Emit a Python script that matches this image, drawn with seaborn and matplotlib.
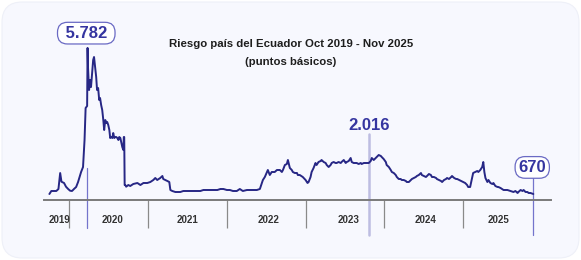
import matplotlib
matplotlib.use("Agg")
import matplotlib.pyplot as plt
from matplotlib.patches import FancyBboxPatch
import matplotlib.transforms as mtransforms
import seaborn as sns
import pandas as pd

dates = [
"2019-10-01","2019-10-10","2019-10-24","2019-11-02","2019-11-12","2019-11-20","2019-11-26","2019-12-08","2019-12-17","2019-12-27",
"2020-01-05","2020-01-14","2020-01-23","2020-02-02","2020-02-11","2020-02-25","2020-03-05","2020-03-12","2020-03-17","2020-03-24",
"2020-03-26","2020-03-28","2020-04-02","2020-04-07","2020-04-11","2020-04-21","2020-04-25","2020-04-30","2020-05-05","2020-05-09",
"2020-05-14","2020-05-19","2020-05-23","2020-05-28","2020-06-02","2020-06-07","2020-06-11","2020-06-16","2020-06-21","2020-06-25",
"2020-06-30","2020-07-05","2020-07-09","2020-07-14","2020-07-19","2020-07-23","2020-07-28","2020-08-02","2020-08-06","2020-08-11",
"2020-08-16","2020-08-20","2020-08-25","2020-08-30","2020-09-03","2020-09-08","2020-09-10","2020-09-12","2020-09-14","2020-09-17",
"2020-09-21","2020-10-01","2020-10-10","2020-10-24","2020-11-12","2020-11-26","2020-12-10","2020-12-28","2021-01-11","2021-01-25",
"2021-02-03","2021-02-12","2021-02-26","2021-03-08","2021-03-12","2021-03-22","2021-03-31","2021-04-09","2021-04-14","2021-04-23",
"2021-05-07","2021-05-21","2021-05-30","2021-06-13","2021-07-01","2021-07-15","2021-07-29","2021-08-17","2021-08-31","2021-09-14",
"2021-10-03","2021-10-17","2021-10-31","2021-11-18","2021-12-02","2021-12-16","2022-01-01","2022-01-15","2022-01-29","2022-02-16",
"2022-03-02","2022-03-16","2022-04-04","2022-04-18","2022-05-02","2022-05-20","2022-06-03","2022-06-17","2022-06-26","2022-07-10",
"2022-07-19","2022-07-28","2022-08-11","2022-08-21","2022-09-04","2022-09-13","2022-09-18","2022-09-27","2022-10-06","2022-10-11",
"2022-10-20","2022-10-29","2022-11-03","2022-11-12","2022-11-22","2022-11-26","2022-12-05","2022-12-19","2023-01-01","2023-01-10",
"2023-01-15","2023-01-24","2023-01-29","2023-02-07","2023-02-16","2023-02-21","2023-03-02","2023-03-12","2023-03-16","2023-03-26",
"2023-04-04","2023-04-09","2023-04-18","2023-04-27","2023-05-02","2023-05-11","2023-05-20","2023-05-25","2023-06-03","2023-06-13",
"2023-06-17","2023-06-27","2023-07-06","2023-07-11","2023-07-20","2023-07-29","2023-08-03","2023-08-12","2023-08-22","2023-08-26",
"2023-09-04","2023-09-14","2023-09-18","2023-09-28","2023-10-07","2023-10-21","2023-10-30","2023-11-04","2023-11-13","2023-11-22",
"2023-11-27","2023-12-06","2023-12-16","2023-12-20","2023-12-29","2024-01-08","2024-01-12","2024-01-22","2024-01-31","2024-02-05",
"2024-02-14","2024-02-23","2024-02-28","2024-03-08","2024-03-17","2024-03-22","2024-03-31","2024-04-10","2024-04-14","2024-04-24",
"2024-05-03","2024-05-08","2024-05-17","2024-05-26","2024-05-31","2024-06-09","2024-06-19","2024-06-23","2024-07-03","2024-07-12",
"2024-07-17","2024-07-26","2024-08-04","2024-08-09","2024-08-18","2024-08-28","2024-09-01","2024-09-11","2024-09-20","2024-09-25",
"2024-10-04","2024-10-13","2024-10-18","2024-10-27","2024-11-06","2024-11-10","2024-11-20","2024-11-29","2024-12-04","2024-12-13",
"2024-12-22","2025-01-01","2025-01-10","2025-01-19","2025-01-24","2025-02-02","2025-02-07","2025-02-12","2025-02-16","2025-02-25",
"2025-03-07","2025-03-12","2025-03-21","2025-03-30","2025-04-04","2025-04-09","2025-04-14","2025-04-23","2025-04-28","2025-05-07",
"2025-05-16","2025-05-21","2025-05-30","2025-06-09","2025-06-13","2025-06-23","2025-07-07","2025-07-25","2025-08-08","2025-08-22",
"2025-08-31","2025-09-10","2025-09-14","2025-09-24","2025-10-03","2025-10-08","2025-10-17","2025-10-26","2025-10-31","2025-11-09",
"2025-11-22",
]
riesgo = [
670,775,775,775,845,1405,1100,1055,925,845,
785,775,845,915,1090,1440,1615,2560,3680,3750,
5782,5115,4310,4660,4415,5360,5465,5115,4765,4310,
4380,3960,4030,3785,3610,3260,2910,3260,3155,3190,
3085,2910,2630,2665,2630,2805,2630,2665,2665,2630,
2560,2665,2630,2455,2315,2210,2665,2665,985,985,
925,985,950,1020,1055,985,1055,1055,1090,1160,
1230,1160,1230,1300,1195,1160,1125,1090,810,775,
740,740,740,775,775,775,775,775,775,810,
810,810,810,810,845,845,810,810,775,775,
845,775,810,810,810,810,845,1160,1265,1510,
1335,1440,1440,1510,1510,1440,1510,1685,1720,1860,
1580,1510,1440,1405,1405,1335,1335,1265,1160,1055,
1090,1265,1440,1580,1755,1685,1790,1825,1860,1790,
1755,1685,1615,1685,1755,1790,1755,1755,1790,1755,
1790,1860,1755,1790,1825,1930,1790,1755,1755,1755,
1720,1755,1720,1755,1755,1755,1825,1930,1860,1930,
1965,2035,2000,1965,1895,1790,1685,1615,1510,1440,
1405,1335,1265,1195,1195,1160,1160,1125,1090,1090,
1160,1195,1230,1265,1300,1335,1405,1335,1300,1265,
1300,1370,1335,1265,1265,1230,1195,1160,1125,1090,
1160,1195,1230,1195,1265,1300,1230,1195,1195,1160,
1125,1090,1055,985,915,915,1090,1265,1405,1440,
1475,1440,1510,1615,1790,1440,1230,1090,1160,1055,
1020,1055,950,915,915,880,810,810,775,740,
775,705,740,810,775,810,740,740,705,705,
670,
]

years = ["2019", "2020", "2021", "2022", "2023", "2024", "2025"]
year_label_dates = ["2019-11-15", "2020-07-20", "2021-07-01", "2022-07-15",
                    "2023-07-20", "2024-07-10", "2025-06-15"]
year_starts = ["2020-01-01", "2021-01-01", "2022-01-01", "2023-01-01",
               "2024-01-01", "2025-01-01"]

title_lines = ["Riesgo país del Ecuador Oct 2019 - Nov 2025", "(puntos básicos)"]
peak_date, peak_label, peak_line_top = "2020-03-22", "5.782", 1580
mid_date, mid_label = "2023-10-21", "2.016"
last_date, last_label = "2025-11-22", "670"

df = pd.DataFrame({"fecha": pd.to_datetime(dates), "riesgo": riesgo})

sns.set_theme(style="white")
plt.rcParams["font.family"] = ["Liberation Sans", "DejaVu Sans"]

W, H = 581, 260
fig = plt.figure(figsize=(W / 100, H / 100), dpi=100)
fig.patch.set_facecolor("white")
card = FancyBboxPatch((2 / W, 2 / H), 1 - 4 / W, 1 - 4 / H,
                      boxstyle="round,pad=0,rounding_size=0.035",
                      transform=fig.transFigure, facecolor="#f7f8fe",
                      edgecolor="#eef0f8", linewidth=0.8, zorder=-10,
                      mutation_aspect=W / H)
fig.patches.append(card)

ax = fig.add_axes([44 / W, 60 / H, 507 / W, 160 / H])
ax.set_zorder(2)
ax.set_facecolor("none")

navy = "#272785"
lab = "#3535a0"
sns.lineplot(data=df, x="fecha", y="riesgo", ax=ax, color=navy, linewidth=1.4,
             zorder=3)

ax.set_xlim(pd.Timestamp("2019-09-06"), pd.Timestamp("2026-02-12"))
ax.set_ylim(460, 6060)
ax.set_xlabel("")
ax.set_ylabel("")
ax.set_yticks([])
for s in ["top", "right", "left"]:
    ax.spines[s].set_visible(False)
ax.spines["bottom"].set_color("#7a7a7a")
ax.spines["bottom"].set_linewidth(1.4)

ax.set_xticks(pd.to_datetime(year_starts))
ax.set_xticklabels([])
ax.tick_params(axis="x", which="major", length=20, width=0.9,
               color="#8a8a8a", direction="out", bottom=True)
ax.set_xticks(pd.to_datetime(year_label_dates), minor=True)
ax.set_xticklabels(years, minor=True, fontsize=7, fontweight="bold",
                   color="#333333")
ax.tick_params(axis="x", which="minor", length=0, pad=11)

trans = mtransforms.blended_transform_factory(ax.transData, ax.transAxes)
ytop_frac = (peak_line_top - 460) / (6060 - 460)
ax.plot([pd.Timestamp(peak_date)] * 2, [ytop_frac, -0.175], transform=trans,
        color="#7474cc", linewidth=0.9, clip_on=False, zorder=1)
ax.plot([pd.Timestamp(mid_date)] * 2, [0.41, -0.22], transform=trans,
        color="#bdbde2", linewidth=1.8, clip_on=False, zorder=1)
ax.plot([pd.Timestamp(last_date)] * 2, [0.14, -0.22], transform=trans,
        color="#7474cc", linewidth=0.9, clip_on=False, zorder=1)

box = dict(boxstyle="round,pad=0.2,rounding_size=0.6", facecolor="white",
           edgecolor="#6a6ac4", linewidth=0.9)
ax.text(pd.Timestamp("2020-03-20"), 6300, " " + peak_label + " ", ha="center",
        va="center", fontsize=12, fontweight="bold", color=lab, bbox=box,
        clip_on=False)
ax.text(pd.Timestamp(mid_date), 3060, mid_label, ha="center", va="center",
        fontsize=12, fontweight="bold", color=lab, clip_on=False)
ax.text(pd.Timestamp("2025-11-17"), 1600, last_label, ha="center", va="center",
        fontsize=12, fontweight="bold", color=lab, bbox=box, clip_on=False)

fig.text(291 / W, 1 - 44 / H, title_lines[0], ha="center", va="center",
         fontsize=8.2, fontweight="bold", color="#1e1e1e")
fig.text(291 / W, 1 - 62 / H, title_lines[1], ha="center", va="center",
         fontsize=8.2, fontweight="bold", color="#1e1e1e")

fig.savefig("out.png", dpi=100, facecolor=fig.get_facecolor())
